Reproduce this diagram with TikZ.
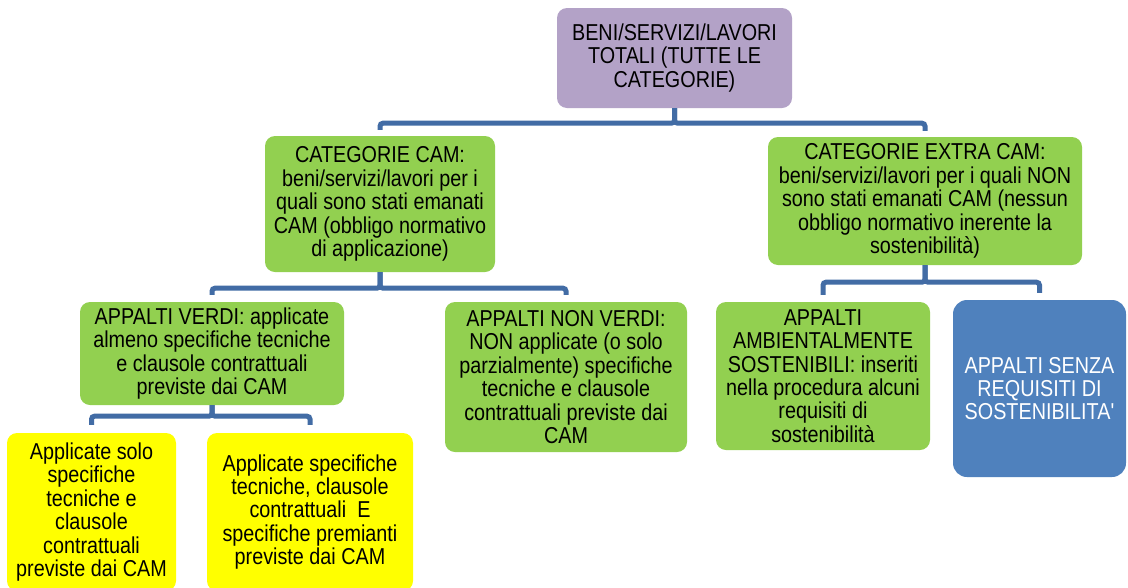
\documentclass[tikz,border=0pt]{standalone}
\usepackage{fontspec}
\setmainfont{Liberation Sans}[FakeStretch=0.86,Ligatures=TeXOff]
\definecolor{cpurple}{RGB}{179,162,199}
\definecolor{cgreen}{RGB}{146,208,80}
\definecolor{cyellow}{RGB}{255,255,0}
\definecolor{cblue}{RGB}{79,129,189}
\definecolor{cline}{RGB}{66,108,165}
\tikzset{
  box/.style={rounded corners=10pt, inner sep=0pt, align=center, font=\fontsize{23}{23.4}\selectfont, text=black},
  pbox/.style={box, fill=cpurple},
  gbox/.style={box, fill=cgreen},
  ybox/.style={box, fill=cyellow},
  bbox/.style={box, fill=cblue, text=white, rounded corners=14pt},
  conn/.style={draw=cline, line width=5pt, rounded corners=3pt},
}
\newcommand{\bx}[7]{% style, name, x1, y1, x2, y2, text
  \node[#1, minimum width={(#5-#3)*1pt}, minimum height={(#6-#4)*1pt}] (#2) at ({(#3+#5)/2*1pt},{-(#4+#6)/2*1pt}) {#7};}
\begin{document}
\begin{tikzpicture}[x=1pt,y=1pt]
\useasboundingbox (0,0) rectangle (1128,-587);
\clip (0,0) rectangle (1128,-587);
\fill[white] (0,0) rectangle (1128,-587);
\bx{pbox}{top}{557}{8}{792}{108}{BENI/SERVIZI/LAVORI\\TOTALI (TUTTE LE\\CATEGORIE)}
\bx{gbox}{cam}{265}{136}{495}{272}{CATEGORIE CAM:\\beni/servizi/lavori per i\\quali sono stati emanati\\CAM (obbligo normativo\\di applicazione)}
\bx{gbox}{extra}{768}{137}{1082}{265}{CATEGORIE EXTRA CAM:\\beni/servizi/lavori per i quali NON\\sono stati emanati CAM (nessun\\obbligo normativo inerente la\\sostenibilità)}
\bx{gbox}{verdi}{80}{302}{344}{405}{APPALTI VERDI: applicate\\almeno specifiche tecniche\\e clausole contrattuali\\previste dai CAM}
\bx{gbox}{nonverdi}{445}{302}{687}{452}{APPALTI NON VERDI:\\NON applicate (o solo\\parzialmente) specifiche\\tecniche e clausole\\contrattuali previste dai\\CAM}
\bx{gbox}{amb}{716}{302}{930}{450}{APPALTI\\AMBIENTALMENTE\\SOSTENIBILI: inseriti\\nella procedura alcuni\\requisiti di\\sostenibilità}
\bx{bbox}{senza}{953}{300}{1126}{477}{APPALTI SENZA\\REQUISITI DI\\SOSTENIBILITA'}
\bx{ybox}{y1}{7}{433}{176}{591}{Applicate solo\\specifiche\\tecniche e\\clausole\\contrattuali\\previste dai CAM}
\bx{ybox}{y2}{207}{433}{413}{591}{Applicate specifiche\\tecniche, clausole\\contrattuali~~E\\specifiche premianti\\previste dai CAM}
% connectors
\draw[conn] (top.south) -- ++(0,-15) -| ([yshift=6]cam.north);
\draw[conn] (top.south) -- ++(0,-15) -| ([yshift=6]extra.north);
\draw[conn] (cam.south) -- ++(0,-16) -| ([yshift=7]verdi.north);
\draw[conn] (cam.south) -- ++(0,-16) -| ([yshift=7]nonverdi.north);
\draw[conn] (extra.south) -- ++(0,-17) -| ([yshift=7]amb.north);
\draw[conn] (extra.south) -- ++(0,-17) -| ([yshift=7]senza.north);
\draw[conn] (verdi.south) -- ++(0,-11) -| ([yshift=8]y1.north);
\draw[conn] (verdi.south) -- ++(0,-11) -| ([yshift=8]y2.north);
\end{tikzpicture}
\end{document}
